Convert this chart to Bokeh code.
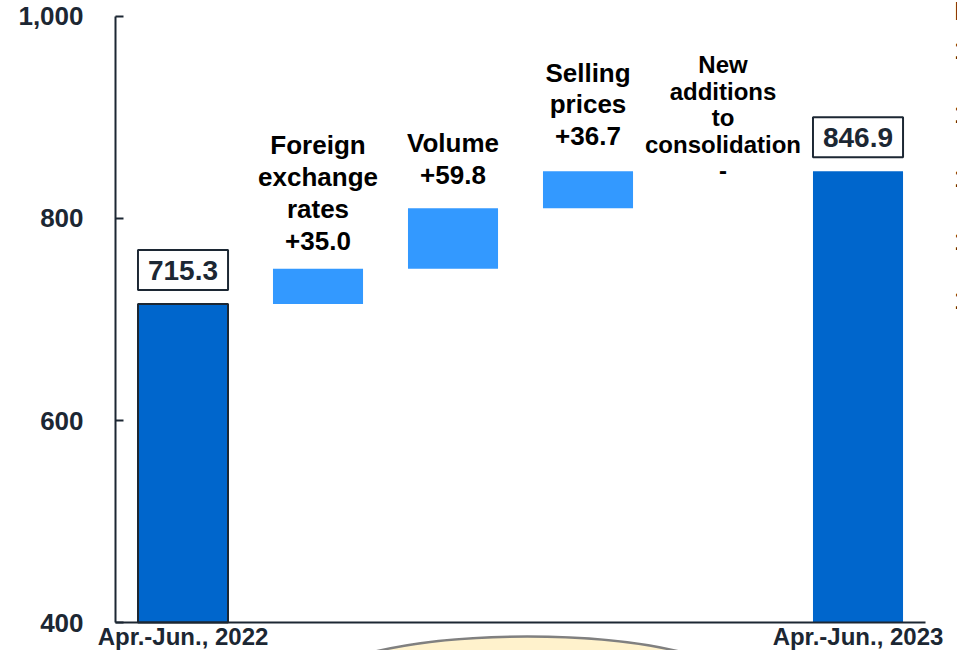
import numpy as np
from bokeh.plotting import figure
from bokeh.models import ColumnDataSource, Range1d, FixedTicker, NumeralTickFormatter
from bokeh.core.properties import value
from bokeh.embed import file_html
from bokeh.resources import INLINE

# ---------------- data ----------------
categories = ["Apr.-Jun., 2022", "Foreign exchange rates", "Volume",
              "Selling prices", "New additions to consolidation", "Apr.-Jun., 2023"]
step_titles = ["Foreign\nexchange\nrates", "Volume", "Selling\nprices",
               "New\nadditions\nto\nconsolidation"]
start_value = 715.3
deltas = [35.0, 59.8, 36.7, 0.0]
end_value = 846.9
y_ticks = [400, 600, 800, 1000]
# fragments of the neighbouring panel, cut by the right edge
side_texts = ["B", "1", "1", "1", "1", "1"]
side_levels = [1005, 967, 903, 840, 778, 719]

# ---------------- derived ----------------
FONT = "Liberation Sans"
DARK = "#1c2733"
base = y_ticks[0]
xs = np.arange(len(categories)) + 0.5
tops = start_value + np.cumsum(deltas)
bottoms = tops - np.array(deltas)

total_src = ColumnDataSource(dict(
    x=[xs[0], xs[-1]], top=[start_value, end_value], bottom=[base, base],
    txt=[f"{start_value:.1f}", f"{end_value:.1f}"], la=[1.0, 0.0]))

def fmt(d):
    return "-" if d == 0 else f"{d:+.1f}"

step_labels = [f"{t}\n{fmt(d)}" for t, d in zip(step_titles, deltas)]
step_src = ColumnDataSource(dict(x=xs[1:-1], top=tops, bottom=bottoms))

p = figure(width=957, height=650, x_range=Range1d(-0.8519, 6.237),
           y_range=Range1d(372.28, 1015.84), output_backend="svg",
           toolbar_location=None, min_border_left=0, min_border_right=0,
           min_border_top=0, min_border_bottom=0)
p.outline_line_color = None
p.grid.visible = False
p.background_fill_color = "white"

# decorative callout ellipse below the axis
p.ellipse(x=3.05, y=326.7, width=3.41, height=118.8, fill_color="#FFF2CC",
          line_color="#808080", line_width=2.5)

# bars
p.vbar(x="x", top="top", bottom="bottom", width=0.667, source=total_src,
       fill_color="#0066CC", line_color=DARK, line_width=2, line_alpha="la")
p.vbar(x="x", top="top", bottom="bottom", width=0.667, source=step_src,
       fill_color="#3399FF", line_color=None)

# total value boxes
p.text(x="x", y="top", text="txt", source=total_src, text_font=value(FONT),
       text_font_style="bold", text_font_size="28px", text_color=DARK,
       text_align="center", text_baseline="bottom", y_offset=-14,
       background_fill_color="white", border_line_color=DARK,
       border_line_width=2, padding=dict(left=10, right=10, top=11, bottom=10))

# step labels
big = dict(x=list(xs[1:4]), y=list(tops[:3]), txt=step_labels[:3], yoff=[-13, -18, -20])
p.text(x="x", y="y", text="txt", source=ColumnDataSource(big), text_font=value(FONT),
       text_font_style="bold", text_font_size="26px", text_color="black",
       text_align="center", text_baseline="bottom", y_offset="yoff",
       text_line_height=1.06)
small = dict(x=[xs[4]], y=[tops[3]], txt=[step_labels[3]], yoff=[13])
p.text(x="x", y="y", text="txt", source=ColumnDataSource(small), text_font=value(FONT),
       text_font_style="bold", text_font_size="24px", text_color="black",
       text_align="center", text_baseline="bottom", y_offset="yoff",
       text_line_height=0.98)

# neighbouring panel fragments
p.text(x=[6.215] * len(side_texts), y=side_levels, text=side_texts,
       text_font=value(FONT), text_font_style="bold", text_font_size="26px",
       text_color="black", text_align="left", text_baseline="middle")

# axes
yax = p.yaxis[0]
yax.fixed_location = 0
yax.ticker = FixedTicker(ticks=y_ticks)
yax.formatter = NumeralTickFormatter(format="0,0")
yax.bounds = (y_ticks[0], y_ticks[-1])
yax.axis_line_color = DARK
yax.axis_line_width = 2
yax.major_tick_in = 8
yax.major_tick_out = 0
yax.major_tick_line_color = DARK
yax.major_tick_line_width = 2
yax.minor_tick_line_color = None
yax.major_label_text_font = FONT
yax.major_label_text_font_style = "bold"
yax.major_label_text_font_size = "26px"
yax.major_label_text_color = DARK
yax.major_label_standoff = 32

xax = p.xaxis[0]
xax.fixed_location = base
xax.bounds = (0, len(categories))
xax.ticker = FixedTicker(ticks=list(xs))
xax.major_label_overrides = {float(x): (c if i in (0, len(categories) - 1) else "")
                             for i, (x, c) in enumerate(zip(xs, categories))}
xax.axis_line_color = DARK
xax.axis_line_width = 2
xax.major_tick_in = 0
xax.major_tick_out = 0
xax.minor_tick_line_color = None
xax.major_label_text_font = FONT
xax.major_label_text_font_style = "bold"
xax.major_label_text_font_size = "24px"
xax.major_label_text_color = DARK
xax.major_label_standoff = 0

open("out.html", "w").write(file_html(p, INLINE))
